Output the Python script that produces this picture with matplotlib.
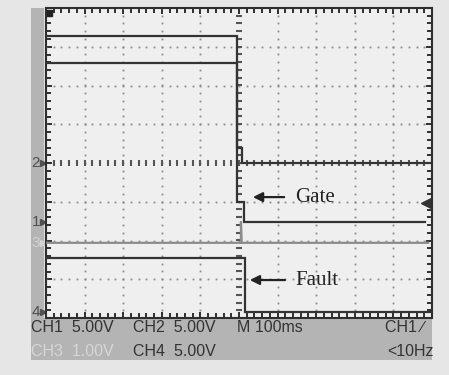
"""Scope capture: gate drive and fault signal at turn-off."""

import numpy as np
import matplotlib

matplotlib.use("Agg")
import matplotlib.pyplot as plt
from matplotlib.patches import Rectangle
from matplotlib.ticker import MultipleLocator

# time base 100 ms/div, 10 divisions
time_per_div = 100

# channel traces, breakpoints in ms and volts
ch1_t = [0, 495, 495, 513, 513, 982]
ch1_v = [24.0, 24.0, 2.6, 2.6, 0.0, 0.0]
ch2_t = [0, 495, 495, 508, 508, 995]
ch2_v = [12.9, 12.9, 2.0, 2.0, 0.0, 0.0]
ch3_t = [0, 505, 505, 507, 990]
ch3_v = [0.0, 0.0, 0.55, 0.0, 0.0]
ch4_t = [0, 515, 515, 995]
ch4_v = [7.0, 7.0, 0.0, 0.0]

# volts/div and ground marker position (divisions from centre)
volts_per_div = [5.0, 5.0, 1.0, 5.0]
ground_div = [-1.52, 0.0, -2.06, -3.85]

status_top = ["CH1  5.00V", "CH2  5.00V", "M 100ms", "CH1 \u2215"]
status_bottom = ["CH3  1.00V", "CH4  5.00V", "", "<10Hz"]

W, H = 449, 375
TRACE = "#333333"
LIGHT = "#8c8c8c"
SANS = "Liberation Sans"


def fx(px):
    return px / W


def fy(py):
    return 1 - py / H


fig = plt.figure(figsize=(W / 100, H / 100), dpi=100, facecolor="#e6e6e6")

# side and bottom readout bands (behind the screen axes)
fig.patches.append(Rectangle((fx(31), fy(320)), fx(13), fy(8) - fy(320), zorder=-1,
                             color="#b4b4b4", lw=0, transform=fig.transFigure))
fig.patches.append(Rectangle((fx(31), fy(360)), fx(401), fy(318) - fy(360), zorder=-1,
                             color="#b4b4b4", lw=0, transform=fig.transFigure))

ax = fig.add_axes([fx(46), fy(318), fx(386), fy(8) - fy(318)])
ax.set_facecolor("#efefef")
ax.set_xlim(0, 10 * time_per_div)
ax.set_ylim(-4, 4)

for s in ax.spines.values():
    s.set_linewidth(1.5)
    s.set_color("#2e2e2e")
ax.xaxis.set_major_locator(MultipleLocator(time_per_div))
ax.xaxis.set_minor_locator(MultipleLocator(time_per_div / 5))
ax.yaxis.set_major_locator(MultipleLocator(1))
ax.yaxis.set_minor_locator(MultipleLocator(0.2))
ax.tick_params(which="both", direction="in", top=True, right=True,
               labelbottom=False, labelleft=False, color="#2e2e2e")
ax.tick_params(which="major", length=4, width=1.4)
ax.tick_params(which="minor", length=3.5, width=1.4)

# dotted graticule
dots_x = np.arange(0, 10 * time_per_div + 1, time_per_div / 5)
dots_y = np.arange(-4, 4.01, 0.2)
for k in range(1, 10):
    if k == 5:
        continue
    ax.plot(np.full_like(dots_y, k * time_per_div), dots_y, ls="none",
            marker="s", ms=1.3, color="#8a8a8a", mec="none")
for k in range(-3, 4):
    if k == 0:
        continue
    ax.plot(dots_x, np.full_like(dots_x, k), ls="none",
            marker="s", ms=1.3, color="#8a8a8a", mec="none")
# centre cross with ticks
ax.plot(np.full_like(dots_y, 5 * time_per_div), dots_y, ls="none",
        marker="_", ms=5, mew=1.5, color="#555555")
ax.plot(dots_x, np.zeros_like(dots_x), ls="none",
        marker="|", ms=5, mew=1.5, color="#555555")

# traces
channels = [(ch1_t, ch1_v, TRACE), (ch2_t, ch2_v, TRACE),
            (ch3_t, ch3_v, LIGHT), (ch4_t, ch4_v, TRACE)]
for i, (t, v, c) in enumerate(channels):
    y = ground_div[i] + np.asarray(v) / volts_per_div[i]
    ax.plot(t, y, color=c, lw=1.6, solid_joinstyle="miter", zorder=4)

# channel ground markers on the left band
trans = ax.get_yaxis_transform()
for i, g in enumerate(ground_div):
    col = "#d2d2d2" if i == 2 else "#505050"
    ax.text(-0.026, g, str(i + 1), transform=trans, ha="center", va="center",
            fontsize=11, color=col, clip_on=False, family=SANS)
    ax.plot(-0.009, g, transform=trans, marker=">", ms=4, color=col,
            clip_on=False)

# trigger level and position markers
ax.plot(0.985, -1.03, transform=trans, marker="<", ms=7, color="#333333")
ax.plot(0.008, 0.985, transform=ax.transAxes, marker="s", ms=4, color="#222222",
        clip_on=False)

# annotations
for label, head, tail, y in [("Gate", 536, 617, -0.88), ("Fault", 528, 619, -3.02)]:
    ax.annotate("", xy=(head, y), xytext=(tail, y),
                arrowprops=dict(arrowstyle="-|>", color="#222222", lw=1.6,
                                mutation_scale=14, shrinkA=0, shrinkB=0))
    ax.text(tail + 28, y, label, ha="left", va="center", fontsize=15,
            family="Liberation Serif", color="#222222")

# status readout
xs = [31, 133, 237, 385]
for x, top, bot, j in zip(xs, status_top, status_bottom, range(4)):
    fig.text(fx(x), fy(328), top, ha="left", va="center", fontsize=11.5,
             color="#333333", family=SANS)
    if bot:
        fig.text(fx(x if j != 3 else 387), fy(352), bot, ha="left", va="center",
                 fontsize=11.5, color="#d6d6d6" if j == 0 else "#333333",
                 family=SANS)

fig.savefig("out.png", dpi=100, facecolor=fig.get_facecolor())
